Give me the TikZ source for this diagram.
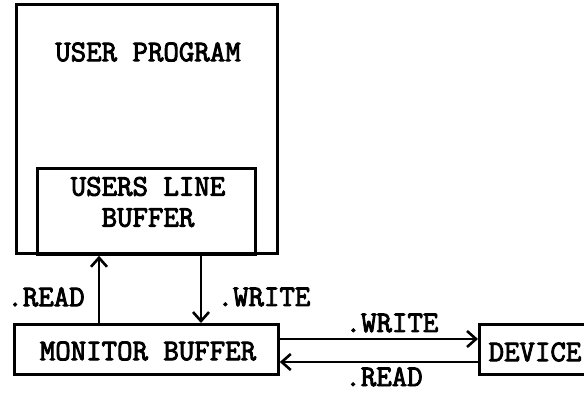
\documentclass[tikz,border=0pt]{standalone}
\usepackage{fontspec}
\newfontfamily\typewriter{Latin Modern Mono}[FakeBold=3]
\usetikzlibrary{arrows.meta}
\tikzset{
  box/.style={draw, line width=2.8pt},
  lbl/.style={font=\typewriter\fontsize{30}{31}\selectfont, inner sep=0pt},
  flow/.style={line width=2.8pt, -{Straight Barb[length=9pt,width=16pt,line width=2.6pt]}}
}
\begin{document}
\begin{tikzpicture}[x=1pt,y=-1pt]
  \useasboundingbox (0,0) rectangle (584,392);
  % boxes
  \node[box, minimum width=261pt, minimum height=249pt, anchor=north west] (prog) at (15,3) {};
  \node[box, minimum width=218pt, minimum height=86pt, anchor=north west] (line) at (36,167) {};
  \node[box, minimum width=264pt, minimum height=50pt, anchor=north west] (mon) at (13,323) {};
  % the device box runs on past the right edge of the page
  \node[box, minimum width=112pt, minimum height=50pt, anchor=north west] (dev) at (478,323) {};
  % box texts
  \node[lbl] (tprog) at (148,52) {USER PROGRAM};
  \node[lbl, align=center] (tline) at (148,202) {USERS LINE\\BUFFER};
  \node[lbl] (tmon) at (148,351) {MONITOR BUFFER};
  \node[lbl] (tdev) at (535,352) {DEVICE};
  % connectors
  \coordinate (rd) at (99,0);
  \coordinate (wr) at (201,0);
  \draw[flow] (mon.north -| rd) -- (line.south -| rd);
  \draw[flow] (line.south -| wr) -- (mon.north -| wr);
  \coordinate (dw) at (0,339);
  \coordinate (dr) at (0,362);
  \draw[flow] (mon.east |- dw) -- (dev.west |- dw);
  \draw[flow] (dev.west |- dr) -- (mon.east |- dr);
  % connector labels
  \node[lbl] (l1) at (46,297) {.READ};
  \node[lbl] (l2) at (264,297) {.WRITE};
  \node[lbl] (l3) at (392,323) {.WRITE};
  \node[lbl, anchor=base] (l4) at (384,386) {.READ};
\end{tikzpicture}
\end{document}
